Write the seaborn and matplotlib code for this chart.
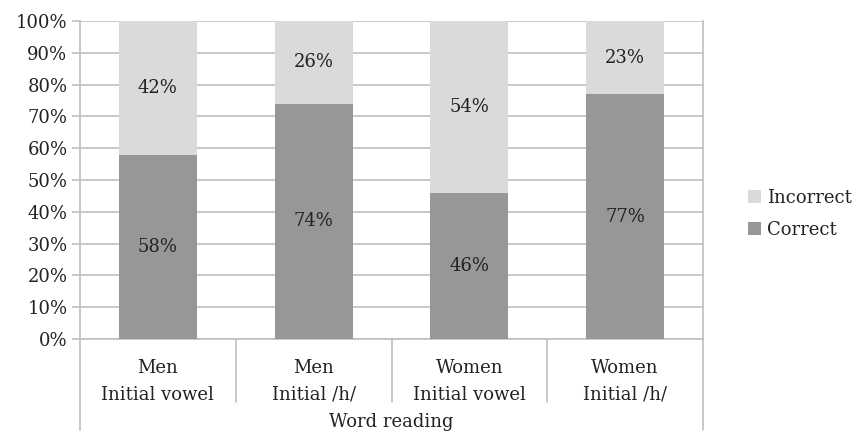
import matplotlib
matplotlib.use("Agg")
import matplotlib.pyplot as plt
import seaborn as sns
import pandas as pd

groups = ["Men\nInitial vowel", "Men\nInitial /h/", "Women\nInitial vowel", "Women\nInitial /h/"]
correct = [58, 74, 46, 77]
incorrect = [42, 26, 54, 23]
yticks = [0, 10, 20, 30, 40, 50, 60, 70, 80, 90, 100]
axis_title = "Word reading"

c_correct = "#979797"
c_incorrect = "#dadada"
grid_c = "#bfbfbf"
txt_c = "#222222"
fs = 13

sns.set_theme(style="white")
plt.rcParams["font.family"] = ["DejaVu Serif"]

df = pd.DataFrame({"group": groups, "correct": correct,
                   "total": [c + i for c, i in zip(correct, incorrect)]})

fig = plt.figure(figsize=(8.55, 4.32), dpi=100)
ax = fig.add_axes([80 / 855, 1 - 339 / 432, 623 / 855, 318 / 432])

sns.barplot(data=df, x="group", y="total", color=c_incorrect, width=0.5,
            saturation=1, ax=ax, label="Incorrect", zorder=2, linewidth=0)
sns.barplot(data=df, x="group", y="correct", color=c_correct, width=0.5,
            saturation=1, ax=ax, label="Correct", zorder=3, linewidth=0)
handles, labels = ax.get_legend_handles_labels()
if ax.get_legend() is not None:
    ax.get_legend().remove()

ax.set_xlim(-0.5, len(groups) - 0.5)
ax.set_ylim(0, 100)
ax.set_yticks(yticks)
ax.set_yticklabels([f"{t}%" for t in yticks], fontsize=fs, color=txt_c)
ax.yaxis.grid(True, color=grid_c, linewidth=1.2, zorder=0)
ax.set_axisbelow(True)
ax.tick_params(axis="y", length=6, width=1.2, color=grid_c, pad=3, left=True)
ax.tick_params(axis="x", length=0, labelbottom=False)
ax.set_xlabel("")
ax.set_ylabel("")
for s in ["left", "right", "bottom"]:
    ax.spines[s].set_color(grid_c)
    ax.spines[s].set_linewidth(1.2)
ax.spines["top"].set_visible(False)

# value labels centred in each segment
for i, (c, inc) in enumerate(zip(correct, incorrect)):
    ax.text(i, c / 2, f"{c}%", ha="center", va="center", fontsize=fs, color=txt_c, zorder=5)
    ax.text(i, c + inc / 2, f"{inc}%", ha="center", va="center", fontsize=fs, color=txt_c, zorder=5)

# two-level category axis below the plot
trans = ax.get_xaxis_transform()
for k in range(len(groups) + 1):
    x = k - 0.5
    bottom = -0.286 if k in (0, len(groups)) else -0.198
    ax.plot([x, x], [0, bottom], transform=trans, color=grid_c, lw=1.2, clip_on=False)
for i, g in enumerate(groups):
    for j, line in enumerate(g.split("\n")):
        ax.text(i, -0.091 - 0.085 * j, line, transform=trans, ha="center", va="center",
                fontsize=fs, color=txt_c)
ax.text(len(groups) / 2 - 0.5, -0.261, axis_title, transform=trans, ha="center",
        va="center", fontsize=fs, color=txt_c)

leg = fig.legend(handles, labels, loc="center left", bbox_to_anchor=(748 / 855, 1 - 214 / 432),
                 frameon=False, fontsize=fs, handlelength=0.72, handleheight=0.72,
                 handletextpad=0.33, labelspacing=0.75, borderpad=0, borderaxespad=0)
for t in leg.get_texts():
    t.set_color(txt_c)

fig.savefig("out.png", dpi=100)
